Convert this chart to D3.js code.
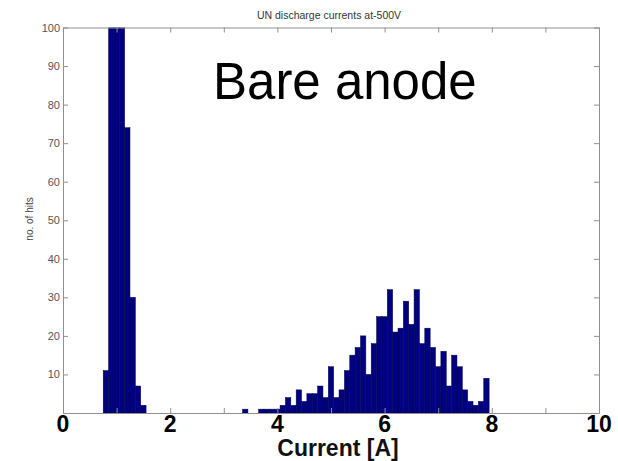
<!DOCTYPE html>
<html>
<head>
<meta charset="utf-8">
<script src="https://cdn.jsdelivr.net/npm/d3@7"></script>
<style>
  html, body { margin: 0; padding: 0; background: #fff; }
  svg { display: block; }
  text { font-family: Arial, "Liberation Sans", Helvetica, sans-serif; }
</style>
</head>
<body>
<svg id="chart" width="618" height="461"></svg>
<script>
// ---- Data (bin centres in A, counts per 0.1 A bin) ----
const currents = [0.8, 0.9, 1.0, 1.1, 1.2, 1.3, 1.4, 1.5,
  3.4, 3.7, 3.8, 3.9, 4.0, 4.1, 4.2, 4.3, 4.4, 4.5, 4.6, 4.7, 4.8, 4.9,
  5.0, 5.1, 5.2, 5.3, 5.4, 5.5, 5.6, 5.7, 5.8, 5.9,
  6.0, 6.1, 6.2, 6.3, 6.4, 6.5, 6.6, 6.7, 6.8, 6.9,
  7.0, 7.1, 7.2, 7.3, 7.4, 7.5, 7.6, 7.7, 7.8, 7.9];
const hits = [11, 140, 190, 150, 74, 30, 7, 2,
  1, 1, 1, 1, 1, 2, 4, 2, 6, 3, 5, 5, 7, 4,
  12, 4, 6, 11, 15, 17, 20, 10, 18, 25,
  25, 32, 21, 22, 29, 23, 32, 18, 22, 17,
  12, 16, 7, 15, 12, 6, 3, 2, 3, 9];
const binWidth = 0.1;
const xTickValues = [0, 1, 2, 3, 4, 5, 6, 7, 8, 9, 10];
const xLabelValues = [0, 2, 4, 6, 8, 10];
const xLabels = ["0", "2", "4", "6", "8", "10"];
const yTickValues = [0, 10, 20, 30, 40, 50, 60, 70, 80, 90, 100];
const yLabelValues = [10, 20, 30, 40, 50, 60, 70, 80, 90, 100];
const titleText = "UN discharge currents at-500V";
const xTitle = "Current [A]";
const yTitle = "no. of hits";
const annotation = "Bare anode";

const svg = d3.select("#chart");
const pL = 63, pR = 599, pT = 27.5, pB = 413;
const x = d3.scaleLinear().domain([0, 10]).range([pL, pR]);
const y = d3.scaleLinear().domain([0, 100]).range([pB, pT]);
const axisColor = "#909090";

svg.append("defs").append("clipPath").attr("id", "plotclip")
  .append("rect").attr("x", pL).attr("y", pT)
  .attr("width", pR - pL).attr("height", pB - pT);

// bars
svg.append("g").attr("clip-path", "url(#plotclip)")
  .selectAll("rect").data(currents.map((c, i) => ({c, h: hits[i]})))
  .join("rect")
  .attr("x", d => x(d.c - binWidth / 2))
  .attr("width", d => x(d.c + binWidth / 2) - x(d.c - binWidth / 2))
  .attr("y", d => y(d.h))
  .attr("height", d => y(0) - y(d.h))
  .attr("fill", "#000080")
  .attr("stroke", "#00004a")
  .attr("stroke-width", 0.5);

function styleAxis(g) {
  g.selectAll(".domain").attr("stroke", axisColor);
  g.selectAll(".tick line").attr("stroke", axisColor);
}

// bottom / top axes (ticks inward, no labels)
svg.append("g").attr("transform", `translate(0,${pB})`)
  .call(d3.axisBottom(x).tickValues(xTickValues).tickSize(-5).tickSizeOuter(0).tickFormat(""))
  .call(styleAxis);
svg.append("g").attr("transform", `translate(0,${pT})`)
  .call(d3.axisTop(x).tickValues(xTickValues).tickSize(-5).tickSizeOuter(0).tickFormat(""))
  .call(styleAxis);

// left axis with labels
const yl = svg.append("g").attr("transform", `translate(${pL},0)`)
  .call(d3.axisLeft(y).tickValues(yTickValues).tickSize(-5).tickSizeOuter(0).tickPadding(3)
    .tickFormat(d => yLabelValues.includes(d) ? String(d) : ""))
  .call(styleAxis);
yl.selectAll(".tick text").attr("font-size", 11).attr("fill", "#555555")
  .attr("font-family", "Arial, 'Liberation Sans', sans-serif");

svg.append("g").attr("transform", `translate(${pR},0)`)
  .call(d3.axisRight(y).tickValues(yTickValues).tickSize(-5).tickSizeOuter(0).tickFormat(""))
  .call(styleAxis);

// big bold x labels
svg.append("g").selectAll("text").data(xLabelValues).join("text")
  .attr("x", d => x(d)).attr("y", 432)
  .attr("text-anchor", "middle")
  .attr("font-size", 23).attr("font-weight", "bold").attr("fill", "#000")
  .text((d, i) => xLabels[i]);

// axis titles
svg.append("text").attr("x", 338).attr("y", 456)
  .attr("text-anchor", "middle").attr("font-size", 23).attr("font-weight", "bold")
  .attr("fill", "#111").text(xTitle);

svg.append("text").attr("transform", "translate(33,219) rotate(-90)")
  .attr("text-anchor", "middle").attr("font-size", 10).attr("fill", "#444")
  .text(yTitle);

// title
svg.append("text").attr("x", 329).attr("y", 19)
  .attr("text-anchor", "middle").attr("font-size", 10.5).attr("fill", "#333")
  .text(titleText);

// annotation
svg.append("text").attr("x", 213).attr("y", 99)
  .attr("font-size", 51).attr("fill", "#000")
  .text(annotation);
</script>
</body>
</html>
